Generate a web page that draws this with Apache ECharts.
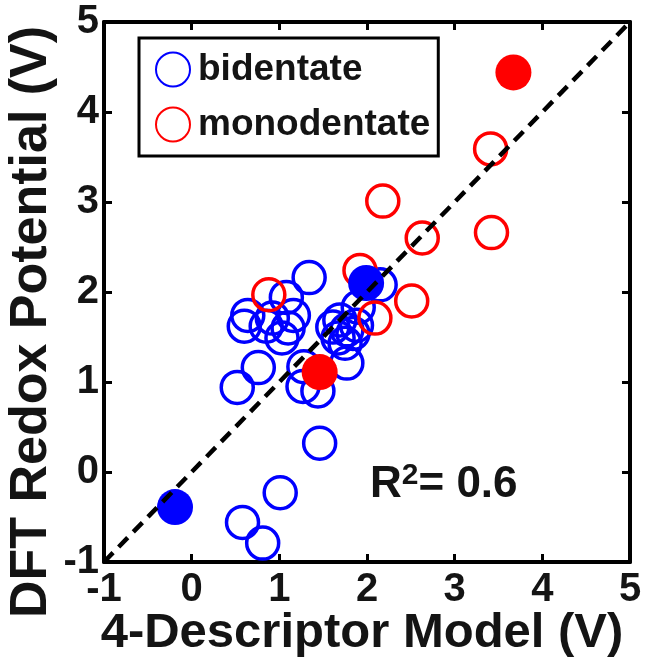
<!DOCTYPE html>
<html lang="en">
<head>
<meta charset="UTF-8">
<title>DFT Redox Potential vs 4-Descriptor Model</title>
<script src="https://cdn.jsdelivr.net/npm/echarts@6/dist/echarts.min.js"></script>
<style>
    html, body { margin: 0; padding: 0; background: #fff; }
    #chart { width: 648px; height: 659px; }
</style>
</head>
<body>
<div id="chart"></div>
<script type="text/javascript">
// axis range / ticks (same for both axes)
var axisMin = -1;
var axisMax = 5;
var tickStep = 1;

// open circles = training set, filled = highlighted points
var bidentateOpen = [
    [1.34, 2.16], [1.08, 1.94], [0.64, 1.74], [0.60, 1.62], [0.92, 1.71],
    [1.16, 1.74], [1.03, 1.49], [1.10, 1.60], [0.85, 1.62], [0.76, 1.16],
    [0.52, 0.94], [1.28, 1.17], [1.27, 0.95], [1.44, 0.90], [1.77, 1.21],
    [2.15, 2.08], [1.90, 1.83], [1.69, 1.69], [1.77, 1.58], [1.84, 1.54],
    [1.67, 1.49], [1.88, 1.63], [1.61, 1.61], [1.75, 1.43], [1.46, 0.32],
    [1.01, -0.23], [0.58, -0.56], [0.81, -0.79]
];
var monodentateOpen = [
    [3.41, 3.59], [2.18, 3.01], [2.63, 2.60], [3.42, 2.66],
    [1.92, 2.24], [2.51, 1.90], [2.09, 1.71], [0.88, 1.97]
];
var bidentateFilled = [[-0.19, -0.39], [1.99, 2.10]];
var monodentateFilled = [[1.46, 1.11], [3.67, 4.44]];
var parityLine = [[-1, -1], [5, 5]];
var r2Value = '0.6';

var font = "'Liberation Sans', Arial, Helvetica, sans-serif";
var textColor = '#141414';

function boxAxis(pos, showLabel) {
    return {
        type: 'value',
        position: pos,
        min: axisMin,
        max: axisMax,
        interval: tickStep,
        axisLine: { show: true, onZero: false, lineStyle: { color: '#000', width: 4 } },
        axisTick: { show: true, inside: true, length: 8, lineStyle: { color: '#000', width: 3 } },
        axisLabel: {
            show: showLabel,
            fontSize: 40,
            fontWeight: 'bold',
            fontFamily: font,
            color: textColor,
            margin: pos === 'bottom' ? 8 : 5
        },
        splitLine: { show: false }
    };
}

var myChart = echarts.init(document.getElementById('chart'));

var option = {
    animation: false,
    backgroundColor: '#fff',
    grid: { left: 104, right: 18, top: 22, bottom: 97 },
    xAxis: [boxAxis('bottom', true), boxAxis('top', false)],
    yAxis: [boxAxis('left', true), boxAxis('right', false)],
    legend: {
        data: ['bidentate', 'monodentate'],
        orient: 'vertical',
        left: 139,
        top: 38,
        padding: [13, 8, 13, 16],
        itemWidth: 34,
        itemHeight: 34,
        itemGap: 18,
        icon: 'circle',
        borderColor: '#000',
        borderWidth: 3,
        backgroundColor: '#fff',
        textStyle: { fontSize: 37, fontWeight: 'bold', fontFamily: font, color: textColor, lineHeight: 34, padding: [0, 0, 0, 3] }
    },
    series: [
        {
            name: 'bidentate',
            type: 'scatter',
            data: bidentateOpen,
            symbolSize: 32,
            z: 2,
            itemStyle: { color: 'rgba(0,0,0,0)', borderColor: '#0000ff', borderWidth: 3.5, opacity: 1 }
        },
        {
            name: 'monodentate',
            type: 'scatter',
            data: monodentateOpen,
            symbolSize: 32,
            z: 3,
            itemStyle: { color: 'rgba(0,0,0,0)', borderColor: '#ff0000', borderWidth: 3.5, opacity: 1 }
        },
        {
            name: 'bidentate (highlighted)',
            type: 'scatter',
            data: bidentateFilled,
            symbolSize: 36,
            z: 4,
            itemStyle: { color: '#0000ff', opacity: 1 }
        },
        {
            name: 'parity',
            type: 'line',
            data: parityLine,
            showSymbol: false,
            silent: true,
            z: 5,
            lineStyle: { color: '#000', width: 4.5, type: [13, 8] }
        },
        {
            name: 'monodentate (highlighted)',
            type: 'scatter',
            data: monodentateFilled,
            symbolSize: 36,
            z: 6,
            itemStyle: { color: '#ff0000', opacity: 1 }
        }
    ],
    graphic: [
        {
            type: 'text', x: 362, y: 633, z: 10,
            style: { text: '4-Descriptor Model (V)', font: 'bold 49px ' + font, fill: textColor, align: 'center', verticalAlign: 'middle' }
        },
        {
            type: 'text', x: 32, y: 322, rotation: Math.PI / 2, z: 10,
            style: { text: 'DFT Redox Potential (V)', font: 'bold 52px ' + font, fill: textColor, align: 'center', verticalAlign: 'middle' }
        },
        {
            type: 'text', x: 370, y: 485, z: 10,
            style: {
                text: '{r|R}{s|2}{r|= ' + r2Value + '}',
                align: 'left',
                verticalAlign: 'middle',
                rich: {
                    r: { font: 'bold 44px ' + font, fill: textColor, lineHeight: 48 },
                    s: { font: 'bold 30px ' + font, fill: textColor, verticalAlign: 'top', lineHeight: 26 }
                }
            }
        }
    ]
};

myChart.setOption(option);
</script>
</body>
</html>
